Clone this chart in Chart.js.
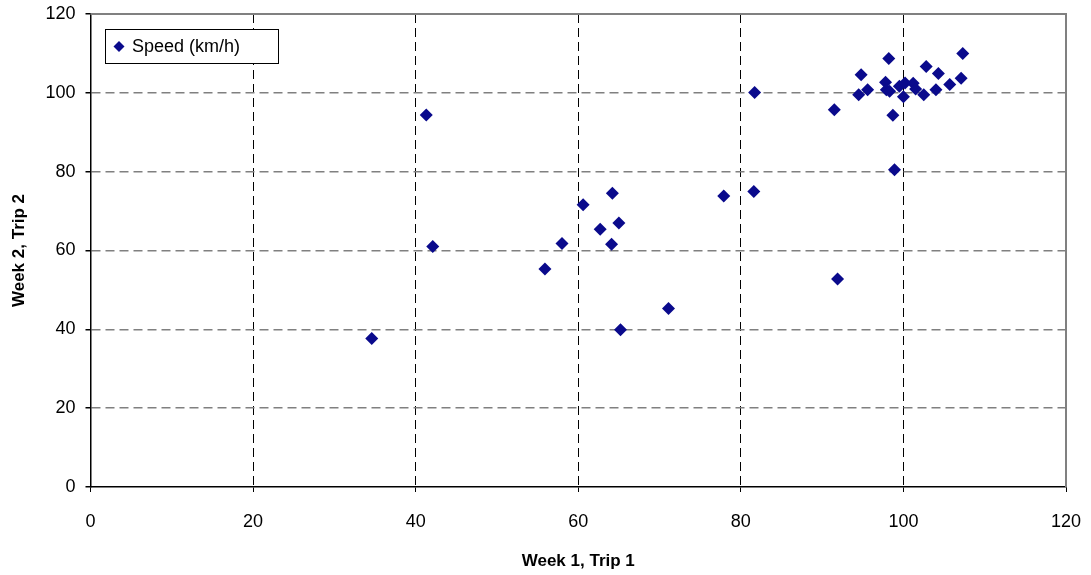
<!DOCTYPE html>
<html>
<head>
<meta charset="utf-8">
<script src="https://cdn.jsdelivr.net/npm/chart.js@4.4.0/dist/chart.umd.min.js"></script>
<style>
    html, body { margin: 0; padding: 0; background: #fff; }
    #wrap { width: 1091px; height: 575px; }
</style>
</head>
<body>
<div id="wrap"><canvas id="speedChart" width="1091" height="575"></canvas></div>
<script>
// values
const seriesLabel = "Speed (km/h)";
const week1Trip1 = [
    34.6, 41.3, 42.1, 55.9, 58.0, 60.6, 62.7, 64.2, 65.0, 64.1, 65.2, 71.1, 77.9,
    81.7, 81.6, 91.5, 91.9, 94.5, 94.8, 95.6, 98.2, 97.8, 97.9, 98.3, 98.7, 98.9,
    99.5, 100.0, 100.2, 101.2, 101.5, 102.5, 102.8, 104.0, 104.3, 105.7, 107.1, 107.3
];
const week2Trip2 = [
    37.7, 94.4, 61.0, 55.3, 61.8, 71.6, 65.4, 74.5, 67.0, 61.6, 39.9, 45.3, 73.8,
    100.1, 75.0, 95.7, 52.8, 99.5, 104.6, 100.8, 108.7, 102.7, 100.8, 100.4, 94.3, 80.5,
    101.7, 99.0, 102.5, 102.4, 101.0, 99.5, 106.7, 100.8, 104.9, 102.1, 103.7, 110.0
];
const xTicks = [0, 20, 40, 60, 80, 100, 120];
const yTicks = [0, 20, 40, 60, 80, 100, 120];

const FONT = "'Liberation Sans', Arial, sans-serif";
const markerColor = "#0a0a8c";

const points = week1Trip1.map((x, i) => ({ x: x, y: week2Trip2[i] }));

// frame + legend box drawn over the plot, like the original
const framePlugin = {
    id: "frame",
    afterDatasetsDraw(chart) {
        const { ctx, chartArea: a } = chart;
        ctx.save();
        ctx.setLineDash([]);
        ctx.strokeStyle = "#808080";
        ctx.lineWidth = 2;
        ctx.beginPath();
        ctx.moveTo(a.left, a.top);
        ctx.lineTo(a.right, a.top);
        ctx.lineTo(a.right, a.bottom);
        ctx.stroke();

        // legend
        const bx = 105.5, by = 29.5, bw = 173, bh = 34;
        ctx.fillStyle = "#fff";
        ctx.fillRect(bx, by, bw, bh);
        ctx.strokeStyle = "#000";
        ctx.lineWidth = 1;
        ctx.strokeRect(bx, by, bw, bh);
        const mx = 119, my = 46.5, r = 5.5;
        ctx.fillStyle = markerColor;
        ctx.beginPath();
        ctx.moveTo(mx, my - r);
        ctx.lineTo(mx + r, my);
        ctx.lineTo(mx, my + r);
        ctx.lineTo(mx - r, my);
        ctx.closePath();
        ctx.fill();
        ctx.fillStyle = "#000";
        ctx.font = "18px " + FONT;
        ctx.textBaseline = "middle";
        ctx.fillText(chart.data.datasets[0].label, 132, my + 1);
        ctx.restore();
    }
};

new Chart(document.getElementById("speedChart"), {
    type: "scatter",
    data: {
        datasets: [
            {
                label: seriesLabel,
                data: points,
                pointStyle: "rectRot",
                pointRadius: 6.5,
                pointHoverRadius: 6.5,
                backgroundColor: markerColor,
                borderColor: markerColor,
                borderWidth: 0,
            },
        ],
    },
    options: {
        responsive: false,
        animation: false,
        layout: { padding: { top: 14, right: 25, left: 0, bottom: 0 } },
        plugins: {
            legend: { display: false },
            tooltip: { enabled: false },
        },
        scales: {
            x: {
                type: "linear",
                min: 0,
                max: 120,
                afterBuildTicks: (scale) => {
                    scale.ticks = xTicks.map((v) => ({ value: v }));
                },
                afterFit: (scale) => {
                    scale.height = 88;
                    scale.paddingLeft = 0;
                    scale.paddingRight = 0;
                },
                ticks: {
                    color: "#000",
                    font: { family: FONT, size: 18 },
                    padding: 19,
                    maxRotation: 0,
                },
                grid: {
                    color: (c) => (c.tick && c.tick.value > 0 && c.tick.value < 120 ? "#000" : "rgba(0,0,0,0)"),
                    tickColor: "#000",
                    tickLength: 5,
                    lineWidth: 1,
                },
                border: { display: true, color: "#000", width: 1.5, dash: [9, 5] },
                title: {
                    display: true,
                    text: "Week 1, Trip 1",
                    color: "#000",
                    font: { family: FONT, size: 17, weight: "bold" },
                    padding: { top: 9, bottom: 3 },
                },
            },
            y: {
                type: "linear",
                min: 0,
                max: 120,
                afterBuildTicks: (scale) => {
                    scale.ticks = yTicks.map((v) => ({ value: v }));
                },
                afterFit: (scale) => {
                    scale.width = 90.5;
                    scale.paddingTop = 0;
                    scale.paddingBottom = 0;
                },
                ticks: {
                    color: "#000",
                    font: { family: FONT, size: 18 },
                    padding: 10,
                },
                grid: {
                    color: (c) => (c.tick && c.tick.value > 0 && c.tick.value < 120 ? "#808080" : "rgba(0,0,0,0)"),
                    tickColor: "#000",
                    tickLength: 5,
                    lineWidth: 1.5,
                },
                border: { display: true, color: "#000", width: 1.5, dash: [9, 5] },
                title: {
                    display: true,
                    text: "Week 2, Trip 2",
                    color: "#000",
                    font: { family: FONT, size: 17, weight: "bold" },
                    padding: { top: 9, bottom: 0 },
                },
            },
        },
    },
    plugins: [framePlugin],
});
</script>
</body>
</html>
